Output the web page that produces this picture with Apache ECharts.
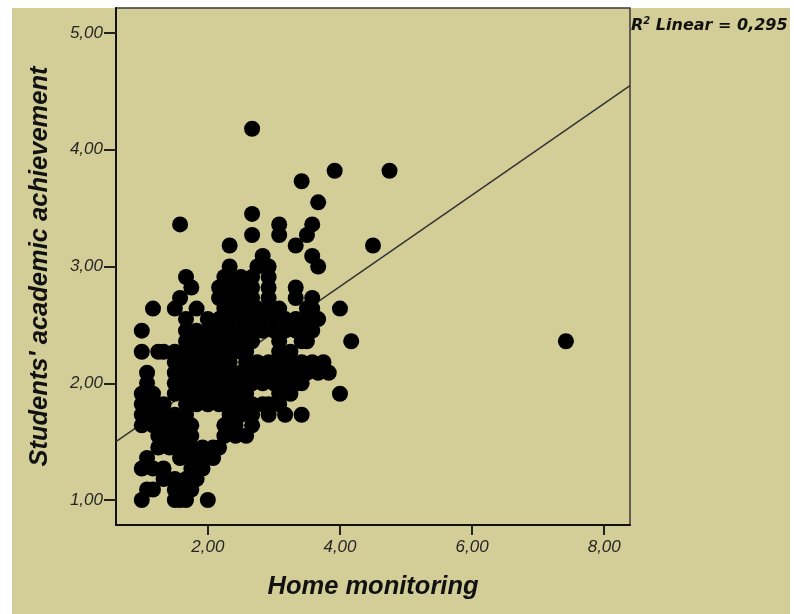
<!DOCTYPE html>
<html>
<head>
<meta charset="utf-8">
<script src="https://cdn.jsdelivr.net/npm/echarts@6/dist/echarts.min.js"></script>
<style>
  html, body { margin:0; padding:0; background:#ffffff; }
  #bg { position:absolute; left:12px; top:8px; width:778px; height:606px; background:#D3CE98; }
  #chart { position:absolute; left:0; top:0; width:794px; height:614px; }
</style>
</head>
<body>
<div id="bg"></div>
<div id="chart"></div>
<script>
// Tick values
const xTicks = [2, 4, 6, 8];
const yTicks = [1, 2, 3, 4, 5];
// Axis extents
const xRange = [0.61, 8.39];
const yRange = [0.786, 5.214];
// Scatter points: [Home monitoring, Students' academic achievement]
const scatterPoints = [
  [1.00,1.00],[1.50,1.00],[1.58,1.00],[1.67,1.00],[2.00,1.00],
  [1.08,1.09],[1.17,1.09],[1.50,1.09],[1.67,1.09],[1.75,1.09],
  [1.33,1.18],[1.50,1.18],[1.67,1.18],[1.83,1.18],
  [1.00,1.27],[1.17,1.27],[1.33,1.27],[1.75,1.27],[1.92,1.27],
  [1.08,1.36],[1.58,1.36],[1.75,1.36],[1.92,1.36],[2.08,1.36],
  [1.25,1.45],[1.42,1.45],[1.58,1.45],[1.75,1.45],[1.92,1.45],[2.08,1.45],[2.17,1.45],
  [1.25,1.55],[1.42,1.55],[1.58,1.55],[1.75,1.55],[2.25,1.55],[2.42,1.55],[2.58,1.55],
  [1.00,1.64],[1.17,1.64],[1.33,1.64],[1.50,1.64],[1.67,1.64],[1.75,1.64],[2.25,1.64],[2.42,1.64],[2.67,1.64],
  [1.00,1.73],[1.17,1.73],[1.33,1.73],[1.50,1.73],[1.67,1.73],[2.33,1.73],[2.50,1.73],[2.67,1.73],[2.92,1.73],[3.17,1.73],[3.42,1.73],
  [1.00,1.82],[1.17,1.82],[1.33,1.82],[1.67,1.82],[1.83,1.82],[2.00,1.82],[2.17,1.82],[2.33,1.82],[2.50,1.82],[2.67,1.82],[2.83,1.82],[2.92,1.82],[3.08,1.82],
  [1.00,1.91],[1.17,1.91],[1.50,1.91],[1.67,1.91],[1.83,1.91],[2.00,1.91],[2.17,1.91],[2.33,1.91],[2.50,1.91],[2.58,1.91],[3.08,1.91],[3.25,1.91],[4.00,1.91],
  [1.08,2.00],[1.50,2.00],[1.67,2.00],[1.83,2.00],[2.00,2.00],[2.17,2.00],[2.33,2.00],[2.50,2.00],[2.67,2.00],[2.83,2.00],[3.00,2.00],[3.17,2.00],[3.33,2.00],[3.42,2.00],
  [1.08,2.09],[1.50,2.09],[1.67,2.09],[1.83,2.09],[2.00,2.09],[2.17,2.09],[2.33,2.09],[2.50,2.09],[2.67,2.09],[2.83,2.09],[3.00,2.09],[3.17,2.09],[3.33,2.09],[3.50,2.09],[3.67,2.09],[3.83,2.09],
  [1.50,2.18],[1.67,2.18],[1.83,2.18],[2.00,2.18],[2.17,2.18],[2.33,2.18],[2.58,2.18],[2.75,2.18],[2.92,2.18],[3.08,2.18],[3.25,2.18],[3.42,2.18],[3.58,2.18],[3.75,2.18],
  [1.00,2.27],[1.25,2.27],[1.33,2.27],[1.50,2.27],[1.67,2.27],[1.83,2.27],[2.00,2.27],[2.17,2.27],[2.33,2.27],[2.50,2.27],[2.58,2.27],[3.08,2.27],[3.25,2.27],
  [1.67,2.36],[1.83,2.36],[2.00,2.36],[2.17,2.36],[2.33,2.36],[2.50,2.36],[2.67,2.36],[3.08,2.36],[3.42,2.36],[3.50,2.36],[4.17,2.36],[7.42,2.36],
  [1.00,2.45],[1.67,2.45],[1.83,2.45],[2.00,2.45],[2.17,2.45],[2.33,2.45],[2.50,2.45],[2.67,2.45],[2.83,2.45],[3.00,2.45],[3.17,2.45],[3.33,2.45],[3.50,2.45],[3.58,2.45],
  [1.67,2.55],[2.00,2.55],[2.17,2.55],[2.33,2.55],[2.50,2.55],[2.67,2.55],[2.83,2.55],[3.00,2.55],[3.17,2.55],[3.33,2.55],[3.50,2.55],[3.67,2.55],
  [1.17,2.64],[1.50,2.64],[1.83,2.64],[2.25,2.64],[2.42,2.64],[2.58,2.64],[2.75,2.64],[2.92,2.64],[3.08,2.64],[3.50,2.64],[3.58,2.64],[4.00,2.64],
  [1.58,2.73],[2.17,2.73],[2.33,2.73],[2.50,2.73],[2.67,2.73],[2.92,2.73],[3.33,2.73],[3.58,2.73],
  [1.75,2.82],[2.17,2.82],[2.33,2.82],[2.50,2.82],[2.67,2.82],[2.92,2.82],[3.33,2.82],
  [1.67,2.91],[2.25,2.91],[2.33,2.91],[2.50,2.91],[2.67,2.91],[2.92,2.91],
  [2.33,3.00],[2.75,3.00],[2.92,3.00],[3.67,3.00],
  [2.83,3.09],[3.58,3.09],
  [2.33,3.18],[3.33,3.18],[4.50,3.18],
  [2.67,3.27],[3.08,3.27],[3.50,3.27],
  [1.58,3.36],[3.08,3.36],[3.58,3.36],
  [2.67,3.45],
  [3.67,3.55],
  [3.42,3.73],
  [3.92,3.82],[4.75,3.82],
  [2.67,4.18]
];
// Fit line end points (R² Linear = 0,295)
const fitLine = [[0.61, 1.50], [8.39, 4.55]];
const r2Label = '0,295';

const fmt = v => v.toFixed(2).replace('.', ',');
const tickFont = { fontFamily: 'Liberation Sans', fontStyle: 'italic', fontSize: 17, color: '#262626' };
const titleFont = { fontFamily: 'Liberation Sans', fontStyle: 'italic', fontWeight: 'bold', fontSize: 25.5, color: '#111' };

const chart = echarts.init(document.getElementById('chart'), null, { renderer: 'canvas' });
chart.setOption({
  animation: false,
  backgroundColor: 'transparent',
  title: {
    text: '{b|R}{s|2}{b| Linear = ' + r2Label + '}',
    left: 631, top: 16, padding: 0,
    textStyle: {
      rich: {
        b: { fontFamily: 'DejaVu Sans', fontWeight: 'bold', fontStyle: 'italic', fontSize: 16, color: '#111', lineHeight: 20 },
        s: { fontFamily: 'DejaVu Sans', fontWeight: 'bold', fontStyle: 'italic', fontSize: 10, color: '#111', lineHeight: 20, padding: [0, 0, 10, 0] }
      }
    }
  },
  grid: { left: 116, right: 164, top: 8, bottom: 89, show: true, borderColor: '#3a3a3a', borderWidth: 1.5, backgroundColor: 'transparent' },
  xAxis: {
    type: 'value', min: xRange[0], max: xRange[1],
    axisLine: { show: true, onZero: false, lineStyle: { color: '#111', width: 2 } },
    axisTick: { show: true, customValues: xTicks, length: 10, lineStyle: { color: '#222', width: 2 } },
    axisLabel: Object.assign({ customValues: xTicks, formatter: fmt, margin: 14 }, tickFont),
    splitLine: { show: false },
    name: 'Home monitoring', nameLocation: 'middle', nameGap: 49, nameTextStyle: titleFont
  },
  yAxis: {
    type: 'value', min: yRange[0], max: yRange[1],
    axisLine: { show: true, onZero: false, lineStyle: { color: '#111', width: 2 } },
    axisTick: { show: true, customValues: yTicks, length: 12, lineStyle: { color: '#222', width: 2 } },
    axisLabel: Object.assign({ customValues: yTicks, formatter: fmt, margin: 13 }, tickFont),
    splitLine: { show: false },
    name: "Students' academic achievement", nameLocation: 'middle', nameGap: 63, nameTextStyle: titleFont
  },
  series: [
    {
      type: 'line', data: fitLine, showSymbol: false, symbol: 'none', z: 1,
      lineStyle: { color: '#333', width: 1.5 }, silent: true
    },
    {
      type: 'scatter', data: scatterPoints, symbol: 'circle', symbolSize: 16, z: 2,
      itemStyle: { color: '#000', opacity: 1 }
    }
  ]
});
</script>
</body>
</html>
